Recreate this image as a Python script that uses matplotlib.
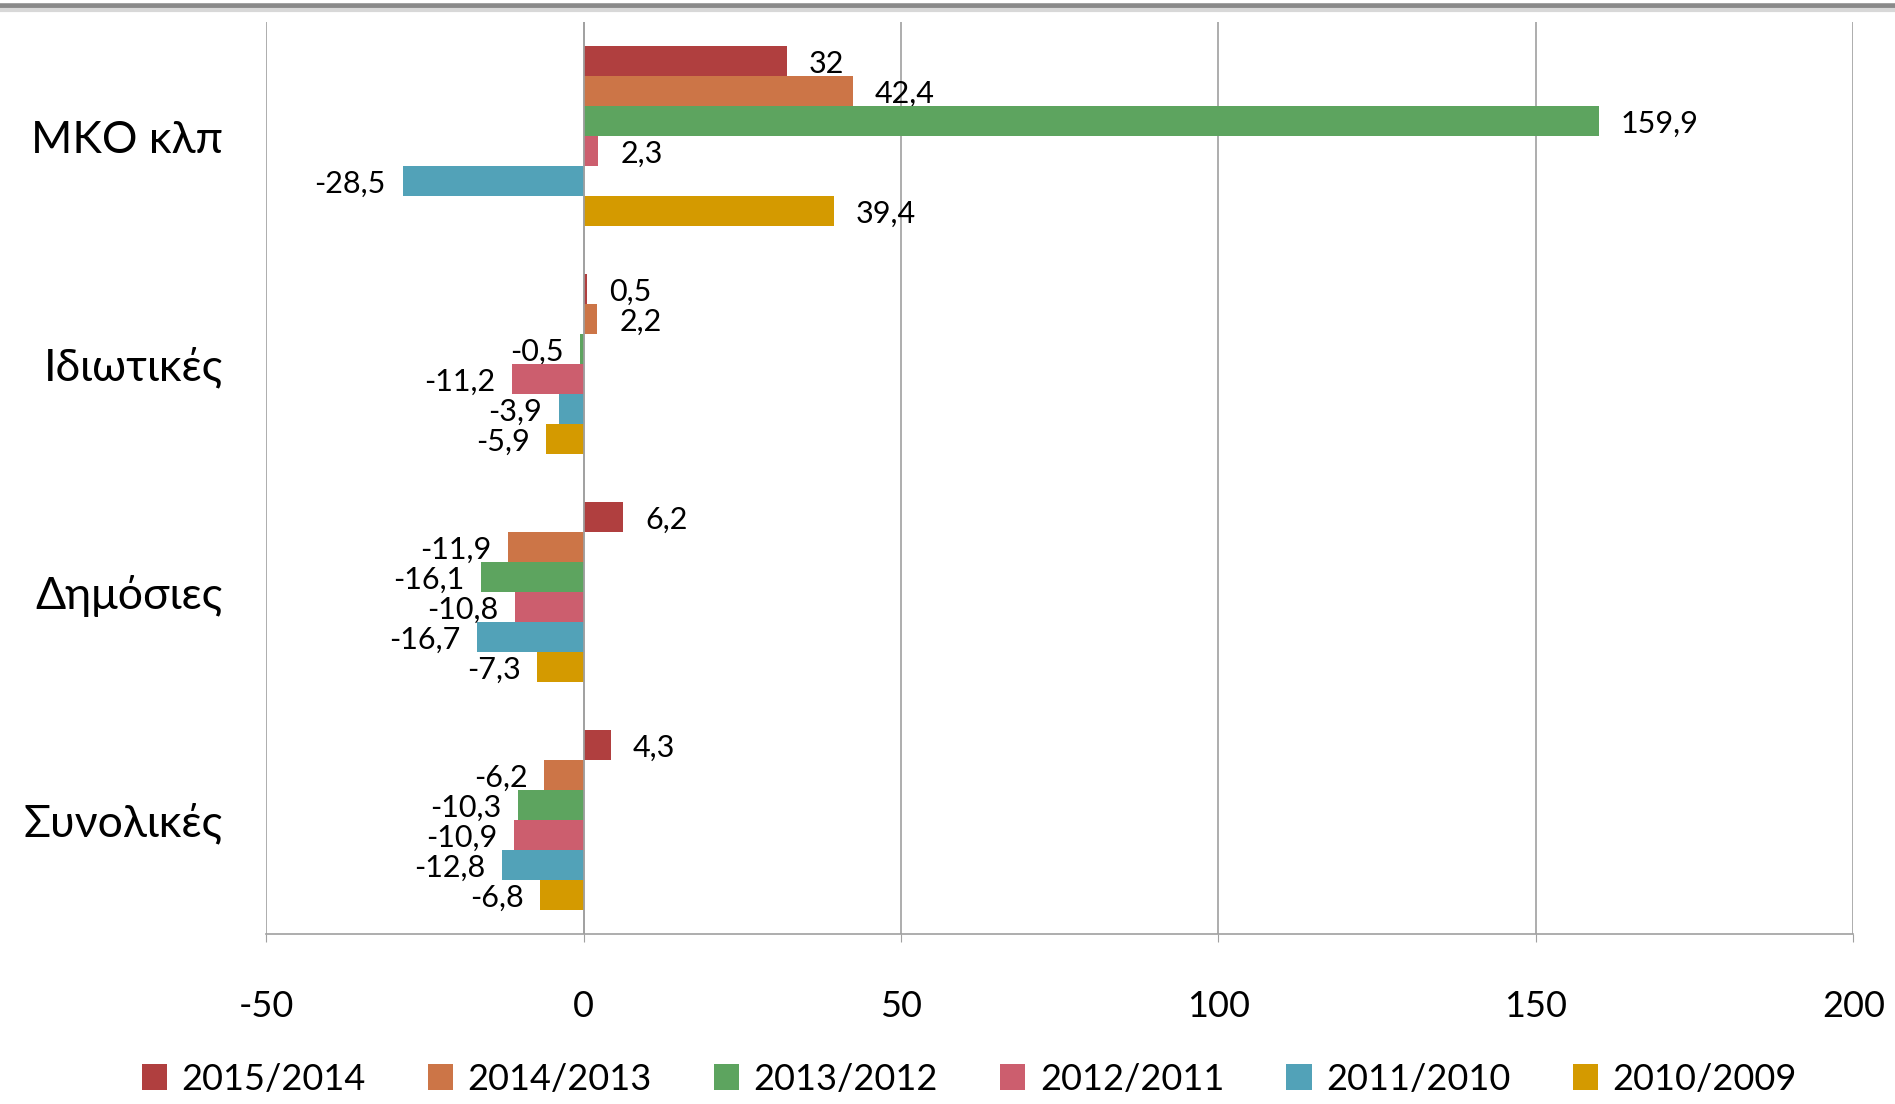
import matplotlib
matplotlib.use("Agg")
import matplotlib.pyplot as plt
from matplotlib.lines import Line2D
import numpy as np

# --- dados ---
categorias = ['ΜΚΟ κλπ', 'Ιδιωτικές', 'Δημόσιες', 'Συνολικές']
periodos = ['2015/2014', '2014/2013', '2013/2012', '2012/2011', '2011/2010', '2010/2009']

v_2015_2014 = [32, 0.5, 6.2, 4.3]
v_2014_2013 = [42.4, 2.2, -11.9, -6.2]
v_2013_2012 = [159.9, -0.5, -16.1, -10.3]
v_2012_2011 = [2.3, -11.2, -10.8, -10.9]
v_2011_2010 = [-28.5, -3.9, -16.7, -12.8]
v_2010_2009 = [39.4, -5.9, -7.3, -6.8]
series = [v_2015_2014, v_2014_2013, v_2013_2012, v_2012_2011, v_2011_2010, v_2010_2009]

cores = ['#B03F3F', '#CC7547', '#5DA45F', '#CC5E6E', '#52A2B8', '#D49A00']

plt.rcParams['font.family'] = ['Lato', 'DejaVu Sans']

fig = plt.figure(figsize=(18.95, 11.04), dpi=100)
ax = fig.add_axes([0.1404, 0.154, 0.8376, 0.826])

n = len(series)
altura = 0.79 / n
y_base = np.arange(len(categorias))

for i, (vals, cor, nome) in enumerate(zip(series, cores, periodos)):
    y = y_base - 0.395 + altura * (i + 0.5)
    ax.barh(y, vals, height=altura, color=cor, label=nome, zorder=3)
    for yy, v in zip(y, vals):
        txt = f'{v:g}'.replace('.', ',')
        if v >= 0:
            ax.annotate(txt, (v, yy), xytext=(16, -2), textcoords='offset points',
                        ha='left', va='center', fontsize=22)
        else:
            ax.annotate(txt, (v, yy), xytext=(-12, -2), textcoords='offset points',
                        ha='right', va='center', fontsize=22)

ax.set_xlim(-50, 200)
ax.set_ylim(3.5, -0.5)
ax.set_xticks([-50, 0, 50, 100, 150, 200])
ax.set_xticklabels(['-50', '0', '50', '100', '150', '200'])
ax.set_yticks(y_base)
ax.set_yticklabels(categorias)
ax.tick_params(axis='x', labelsize=26, pad=34, length=6, color='#A0A0A0')
ax.tick_params(axis='y', labelsize=32, pad=31, length=0)

ax.grid(axis='x', color='#A0A0A0', lw=1.2, zorder=0)
ax.axvline(0, color='#A0A0A0', lw=1.2, zorder=4)
for s in ['top', 'left', 'right']:
    ax.spines[s].set_visible(False)
ax.spines['bottom'].set_color('#A0A0A0')
ax.spines['bottom'].set_linewidth(1.2)

ax.legend(loc='lower center', bbox_to_anchor=(0.443, -0.213), ncol=6,
          frameon=False, fontsize=26, handlelength=0.7, handleheight=0.7,
          handletextpad=0.4, columnspacing=1.72)

# faixa cinza no topo
fig.add_artist(Line2D([0, 1], [1 - 6 / 1104, 1 - 6 / 1104], color='#8A8A8A', lw=4))
fig.add_artist(Line2D([0, 1], [1 - 10 / 1104, 1 - 10 / 1104], color='#D8D8D8', lw=3))

plt.savefig('out.png', dpi=100)
